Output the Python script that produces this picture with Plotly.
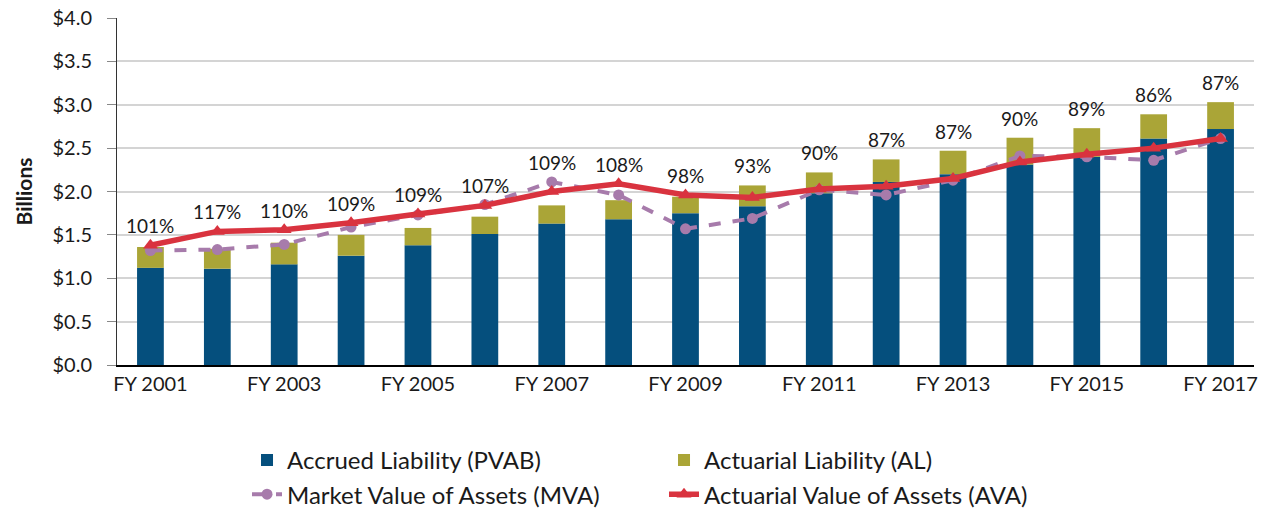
import plotly.graph_objects as go

years = [f"FY {y}" for y in range(2001, 2018)]
tick_labels = [f"FY {y}" for y in range(2001, 2018, 2)]
pvab = [1.12, 1.11, 1.16, 1.26, 1.38, 1.51, 1.63, 1.68, 1.75, 1.83, 1.98, 2.11, 2.20, 2.31, 2.40, 2.61, 2.72]
al = [1.36, 1.34, 1.41, 1.50, 1.58, 1.71, 1.84, 1.90, 1.94, 2.07, 2.22, 2.37, 2.47, 2.62, 2.73, 2.89, 3.03]
mva = [1.32, 1.33, 1.39, 1.59, 1.73, 1.85, 2.11, 1.96, 1.57, 1.69, 2.02, 1.96, 2.13, 2.41, 2.40, 2.36, 2.61]
ava = [1.38, 1.54, 1.56, 1.64, 1.74, 1.84, 2.00, 2.09, 1.96, 1.93, 2.03, 2.06, 2.15, 2.34, 2.43, 2.50, 2.61]
funded = ["101%", "117%", "110%", "109%", "109%", "107%", "109%", "108%", "98%", "93%",
          "90%", "87%", "87%", "90%", "89%", "86%", "87%"]

FONT = "Lato"
BLUE = "#054f7d"
OLIVE = "#aaa537"
RED = "#d9333f"
PURPLE = "#a77bab"

fig = go.Figure()
fig.add_trace(go.Bar(x=years, y=pvab, name="Accrued Liability (PVAB)", marker_color=BLUE,
                     marker_line_width=0))
fig.add_trace(go.Bar(x=years, y=[a - p for a, p in zip(al, pvab)], base=pvab,
                     name="Actuarial Liability (AL)", marker_color=OLIVE, marker_line_width=0))
fig.add_trace(go.Scatter(x=years, y=mva, name="Market Value of Assets (MVA)", mode="lines+markers",
                         line=dict(color=PURPLE, width=4, dash="dash"),
                         marker=dict(symbol="circle", size=11, color=PURPLE)))
fig.add_trace(go.Scatter(x=years, y=ava, name="Actuarial Value of Assets (AVA)", mode="lines+markers",
                         line=dict(color=RED, width=5.5),
                         marker=dict(symbol="triangle-up", size=13, color=RED)))

for x, a, m, v, t in zip(years, al, mva, ava, funded):
    fig.add_annotation(x=x, y=max(a, m, v), text=t, showarrow=False, yanchor="bottom",
                       yshift=6, font=dict(family=FONT, size=19, color="#1a1a1a"))

fig.update_layout(
    width=1267, height=508,
    margin=dict(l=117, r=13, t=18, b=143, autoexpand=False),
    plot_bgcolor="white", paper_bgcolor="white",
    barmode="overlay", bargap=0.6,
    font=dict(family=FONT, size=20, color="#1a1a1a"),
    showlegend=True,
    legend=dict(orientation="h", x=0.4811, xanchor="center", y=-0.21, yanchor="top",
                entrywidth=372, entrywidthmode="pixels", traceorder="normal",
                font=dict(family=FONT, size=24, color="#1a1a1a"), tracegroupgap=0),
)
fig.update_xaxes(type="category", tickmode="array", tickvals=tick_labels, ticktext=tick_labels,
                 range=[-0.5, len(years) - 0.5],
                 showline=True, linecolor="#000", linewidth=1.5, showgrid=False, automargin=False,
                 tickfont=dict(family=FONT, size=20), ticks="", ticklen=0)
fig.update_yaxes(range=[0, 4.0], dtick=0.5, tickformat="$.1f", showgrid=True, gridcolor="#d4d4d4",
                 gridwidth=1.5, showline=True, linecolor="#333", linewidth=1, ticks="outside",
                 ticklen=9, tickcolor="#888", tickfont=dict(family=FONT, size=20), zeroline=False,
                 automargin=False, ticklabelstandoff=11,
                 title=dict(text="<b>Billions</b>", font=dict(family=FONT, size=21), standoff=14))

fig.write_html("out.html", config={"displayModeBar": False},
               post_script="document.body.style.margin='0';")
